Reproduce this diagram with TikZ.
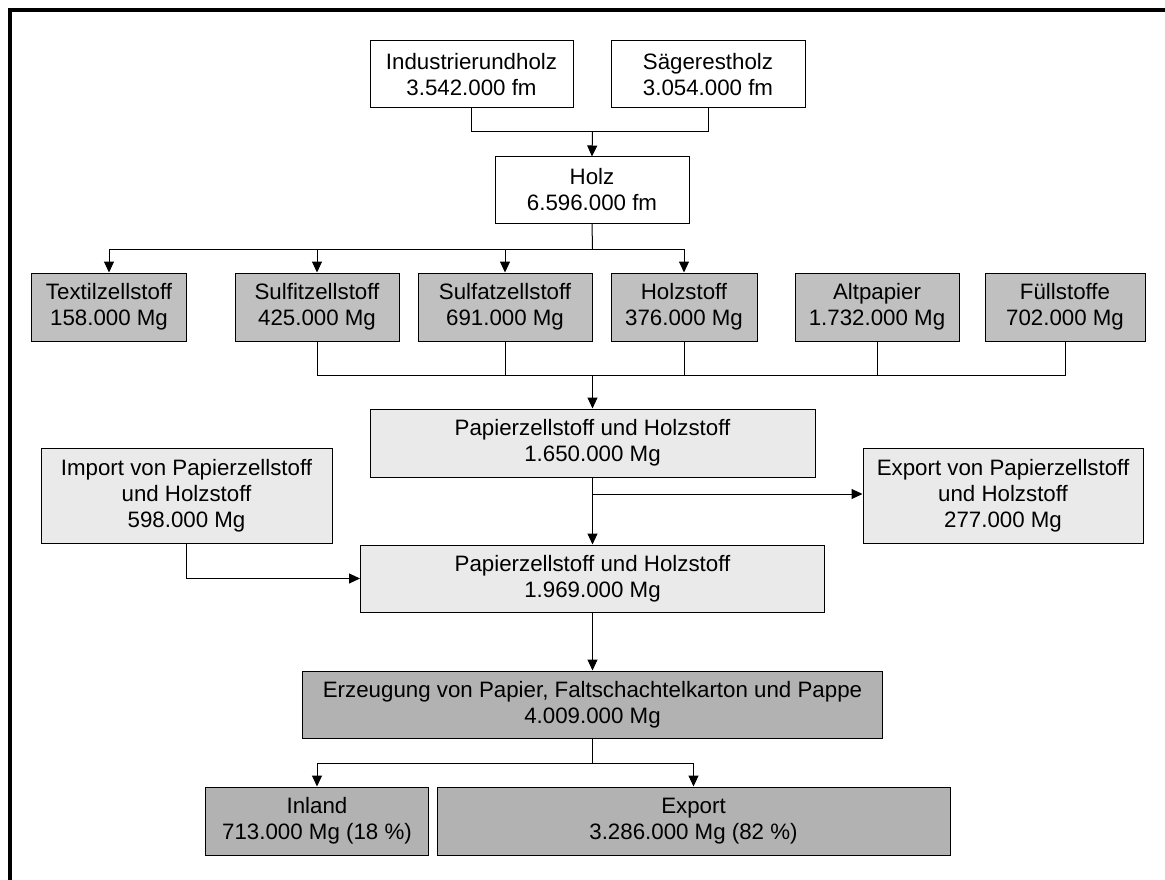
\documentclass[tikz,border=0pt]{standalone}
\usepackage{fontspec}
\setmainfont{Liberation Sans}
\usetikzlibrary{arrows.meta}

\definecolor{fillmid}{HTML}{C0C0C0}
\definecolor{filllight}{HTML}{EAEAEA}
\definecolor{filldark}{HTML}{B2B2B2}

\begin{document}
\begin{tikzpicture}[x=1pt, y=-1pt,
    box/.style={draw, rectangle, line width=1pt, inner sep=0pt, align=center,
      font=\fontsize{22.3}{26}\selectfont},
    whitebox/.style={box, fill=white},
    midbox/.style={box, fill=fillmid},
    lightbox/.style={box, fill=filllight},
    darkbox/.style={box, fill=filldark},
    flow/.style={line width=1pt, -{Triangle[length=11pt,width=10pt]}},
    link/.style={line width=1pt}]
  \useasboundingbox (0,0) rectangle (1165,880);
  \fill[white] (0,0) rectangle (1165,880);
  \draw[line width=4pt] (10,880) -- (10,10) -- (1165,10);

  % Define nodes
  \node[whitebox, minimum width=203, minimum height=67] (ind) at (471.5,74.5) {Industrierundholz\\3.542.000 fm};
  \node[whitebox, minimum width=194, minimum height=67] (saeg) at (708,74.5) {Sägerestholz\\3.054.000 fm};
  \node[whitebox, minimum width=194, minimum height=66] (holz) at (592,190) {Holz\\6.596.000 fm};

  \node[midbox, minimum width=155, minimum height=68] (textil) at (109,307) {Textilzellstoff\\158.000 Mg};
  \node[midbox, minimum width=164, minimum height=68] (sulfit) at (317,307) {Sulfitzellstoff\\425.000 Mg};
  \node[midbox, minimum width=174, minimum height=68] (sulfat) at (505,307) {Sulfatzellstoff\\691.000 Mg};
  \node[midbox, minimum width=146, minimum height=68] (holzst) at (684,307) {Holzstoff\\376.000 Mg};
  \node[midbox, minimum width=164, minimum height=68] (altp) at (877,307) {Altpapier\\1.732.000 Mg};
  \node[midbox, minimum width=160, minimum height=68] (fuell) at (1065,307) {Füllstoffe\\702.000 Mg};

  \node[lightbox, minimum width=445, minimum height=68] (papier1) at (592.5,443) {Papierzellstoff und Holzstoff\\1.650.000 Mg};
  \node[lightbox, minimum width=291, minimum height=95] (import) at (186.5,495.5) {Import von Papierzellstoff\\und Holzstoff\\598.000 Mg};
  \node[lightbox, minimum width=280, minimum height=95] (export1) at (1003,495.5) {Export von Papierzellstoff\\und Holzstoff\\277.000 Mg};
  \node[lightbox, minimum width=464, minimum height=67] (papier2) at (592.5,578.5) {Papierzellstoff und Holzstoff\\1.969.000 Mg};

  \node[darkbox, minimum width=580, minimum height=67] (erz) at (592.5,704.5) {Erzeugung von Papier, Faltschachtelkarton und Pappe\\4.009.000 Mg};
  \node[darkbox, minimum width=223, minimum height=68] (inland) at (317,821) {Inland\\713.000 Mg (18 \%)};
  \node[darkbox, minimum width=513, minimum height=68] (export2) at (693.5,821) {Export\\3.286.000 Mg (82 \%)};

  \coordinate (j1) at (592.5,132);
  \coordinate (j2) at (592.5,249);
  \coordinate (j3) at (592.5,375);
  \coordinate (j4) at (592.5,494);
  \coordinate (j5) at (592.5,763);

  % Draw edges
  \draw[link] (ind.south) |- (j1);
  \draw[link] (saeg.south) |- (j1);
  \draw[flow] (j1) -- (holz.north);

  \draw[link] (holz.south) -- (j2);
  \draw[flow] (j2) -| (textil.north);
  \draw[flow] (j2) -| (sulfit.north);
  \draw[flow] (j2) -| (sulfat.north);
  \draw[flow] (j2) -| (holzst.north);

  \draw[link] (sulfit.south) |- (j3);
  \draw[link] (sulfat.south) |- (j3);
  \draw[link] (holzst.south) |- (j3);
  \draw[link] (altp.south) |- (j3);
  \draw[link] (fuell.south) |- (j3);
  \draw[flow] (j3) -- (papier1.north);

  \draw[flow] (papier1.south) -- (papier2.north);
  \draw[flow] (j4) -- (j4 -| export1.west);
  \draw[flow] (import.south) |- (papier2.west);

  \draw[flow] (papier2.south) -- (erz.north);
  \draw[link] (erz.south) -- (j5);
  \draw[flow] (j5) -| (inland.north);
  \draw[flow] (j5) -| (export2.north);
\end{tikzpicture}
\end{document}
